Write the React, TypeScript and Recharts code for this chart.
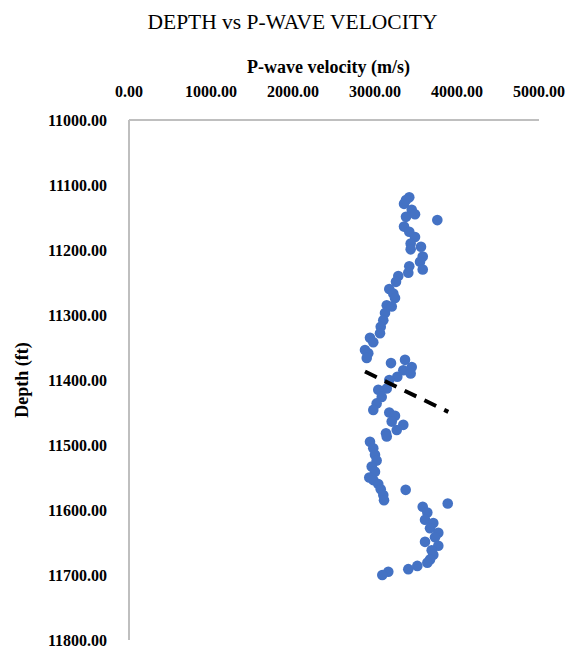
import React from 'react';
import { ScatterChart, Scatter, XAxis, YAxis } from 'recharts';

const velocity = [
  3418, 3354, 3378, 3448, 3488, 3378, 3760, 3354, 3418, 3488,
  3435, 3561, 3435, 3582, 3549, 3582, 3418, 3406, 3284, 3256,
  3174, 3223, 3244, 3143, 3204, 3122, 3101, 3070, 3061, 2939,
  2979, 2878, 2918, 2899, 3366, 3195, 3448, 3345, 3435, 3272,
  3174, 3143, 3040, 3082, 3020, 2979, 3174, 3244, 3204, 3345,
  3265, 3134, 3143, 2939, 2979, 3000, 3020, 2960, 3000, 2930,
  2979, 3040, 3070, 3374, 3101, 3110, 3887, 3582, 3638, 3610,
  3711, 3671, 3772, 3732, 3610, 3772, 3691, 3711, 3671, 3638,
  3516, 3406, 3162, 3089,
];
const depth = [
  11119, 11129, 11123, 11138, 11145, 11149, 11154, 11164, 11172, 11180,
  11190, 11195, 11199, 11210, 11218, 11230, 11225, 11235, 11240, 11249,
  11260, 11267, 11274, 11285, 11287, 11297, 11308, 11318, 11328, 11335,
  11342, 11354, 11359, 11366, 11369, 11374, 11380, 11385, 11390, 11395,
  11400, 11413, 11415, 11426, 11436, 11446, 11450, 11455, 11464, 11469,
  11477, 11482, 11487, 11495, 11505, 11515, 11524, 11533, 11541, 11550,
  11554, 11560, 11568, 11569, 11577, 11585, 11590, 11595, 11604, 11615,
  11620, 11628, 11635, 11642, 11649, 11655, 11662, 11669, 11676, 11681,
  11686, 11691, 11695, 11700,
];
const trendVelocity = [2878, 3894];
const trendDepth = [11387, 11449];
const xTicks = [0, 1000, 2000, 3000, 4000, 5000];
const yTicks = [11000, 11100, 11200, 11300, 11400, 11500, 11600, 11700, 11800];

const points = velocity.map((v, i) => ({ v, d: depth[i] }));
const trend = trendVelocity.map((v, i) => ({ v, d: trendDepth[i] }));

const FONT = '"Liberation Serif", "Times New Roman", serif';
const tickStyle = { fontFamily: FONT, fontSize: 16, fontWeight: 700, fill: '#000' };

export default function App() {
  return (
    <div style={{ position: 'absolute', left: 0, top: 0, width: 567, height: 649, background: '#fff', fontFamily: FONT }}>
      <div style={{ position: 'absolute', left: 0, width: 585, top: 8, textAlign: 'center', fontSize: 21.5, lineHeight: '28px', color: '#000' }}>
        DEPTH vs P-WAVE VELOCITY
      </div>
      <div style={{ position: 'absolute', left: 0, width: 657, top: 56, textAlign: 'center', fontSize: 18, fontWeight: 700, lineHeight: '22px', color: '#000' }}>
        P-wave velocity (m/s)
      </div>
      <ScatterChart width={567} height={649} margin={{ top: 0, right: 28, bottom: 9, left: 0 }}>
        <XAxis
          type="number"
          dataKey="v"
          orientation="top"
          height={120}
          domain={[0, 5000]}
          ticks={xTicks}
          tickFormatter={(t: number) => t.toFixed(2)}
          tickLine={false}
          tickMargin={17}
          axisLine={{ stroke: '#BFBFBF', strokeWidth: 2 }}
          tick={tickStyle}
          interval={0}
        />
        <YAxis
          type="number"
          dataKey="d"
          reversed
          width={129}
          domain={[11000, 11800]}
          ticks={yTicks}
          tickFormatter={(t: number) => t.toFixed(2)}
          tickLine={false}
          tickMargin={16}
          axisLine={{ stroke: '#BFBFBF', strokeWidth: 2 }}
          tick={tickStyle}
          interval={0}
          label={{
            value: 'Depth (ft)',
            angle: -90,
            position: 'insideLeft',
            offset: 22,
            style: { textAnchor: 'middle', fontFamily: FONT, fontSize: 18, fontWeight: 700, fill: '#000' },
          }}
        />
        <Scatter data={points} fill="#4472C4" isAnimationActive={false} shape={(p: any) => <circle cx={p.cx} cy={p.cy} r={5.3} fill="#4472C4" />} />
        <Scatter
          data={trend}
          isAnimationActive={false}
          line={{ stroke: '#000', strokeWidth: 4, strokeDasharray: '13 9' }}
          shape={() => <g />}
        />
      </ScatterChart>
    </div>
  );
}
